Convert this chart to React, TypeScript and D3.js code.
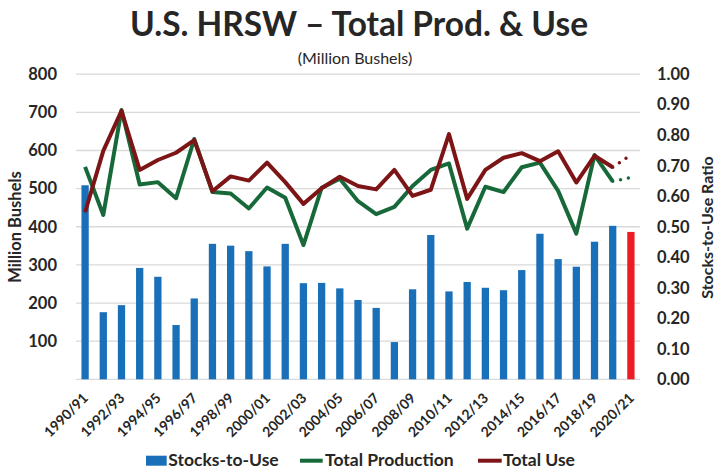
import React from "react";
import * as d3 from "d3";

const categories = [
  "1990/91","1991/92","1992/93","1993/94","1994/95","1995/96","1996/97","1997/98",
  "1998/99","1999/00","2000/01","2001/02","2002/03","2003/04","2004/05","2005/06",
  "2006/07","2007/08","2008/09","2009/10","2010/11","2011/12","2012/13","2013/14",
  "2014/15","2015/16","2016/17","2017/18","2018/19","2019/20","2020/21",
];
const stocksToUse = [
  0.636,0.22,0.243,0.365,0.336,0.178,0.265,0.444,0.438,0.42,0.37,0.444,0.315,0.316,
  0.298,0.26,0.234,0.122,0.295,0.473,0.288,0.319,0.30,0.292,0.358,0.477,0.394,0.369,
  0.451,0.503,0.483,
];
const totalProduction = [
  557,431,706,511,517,475,630,491,487,448,503,476,352,502,526,467,433,452,507,549,
  566,395,505,491,556,568,494,382,588,519,529,
];
const totalUse = [
  438,599,704,549,575,594,627,493,532,521,568,517,460,501,531,507,498,549,481,497,
  643,473,549,581,593,572,598,516,586,556,588,
];
const leftTicks = [100,200,300,400,500,600,700,800];
const rightTicks = [0,0.1,0.2,0.3,0.4,0.5,0.6,0.7,0.8,0.9,1.0];
const xLabels = categories.filter((_, i) => i % 2 === 0);

const FONT = "Lato, 'Open Sans', sans-serif";
const TXT = "#262626";
const BLUE = "#1a6fb9";
const REDBAR = "#ed1c24";
const GREEN = "#17693a";
const DARKRED = "#7d1517";

export default function App() {
  const W = 716, H = 474;
  const x = d3.scaleBand<string>().domain(categories).range([76, 640]).padding(0);
  const yL = d3.scaleLinear().domain([0, 800]).range([379.3, 74.2]);
  const yR = d3.scaleLinear().domain([0, 1]).range([379.3, 74.2]);
  const cx = (i: number) => (x(categories[i]) as number) + x.bandwidth() / 2;
  const barW = x.bandwidth() * 0.4;
  const n = categories.length;

  const line = d3.line<number>().x((_, i) => cx(i)).y((d) => yL(d));
  const solid = (arr: number[]) => line(arr.slice(0, n - 1)) as string;
  const dotted = (arr: number[]) =>
    d3.line<number>().x((_, i) => cx(n - 2 + i)).y((d) => yL(d))(arr.slice(n - 2)) as string;

  return (
    <svg width={W} height={H} style={{ position: "absolute", left: 0, top: 0, background: "#fff" }} fontFamily={FONT}>
      <text x={359} y={36} textAnchor="middle" fontSize={34} fontWeight={700} fill={TXT} textLength={458} lengthAdjust="spacingAndGlyphs">
        U.S. HRSW – Total Prod. &amp; Use
      </text>
      <text x={355} y={64} textAnchor="middle" fontSize={16} fill={TXT}>(Million Bushels)</text>

      {[0, ...leftTicks].map((t) => (
        <line key={"g" + t} x1={76} x2={640} y1={yL(t)} y2={yL(t)} stroke="#d9d9d9" strokeWidth={1.3} />
      ))}
      {leftTicks.map((t) => (
        <text key={"l" + t} x={57} y={yL(t)} dy="0.35em" textAnchor="end" fontSize={16.5} fontWeight={700} fill={TXT}>{t}</text>
      ))}
      {rightTicks.map((t) => (
        <text key={"r" + t} x={657} y={yR(t)} dy="0.35em" textAnchor="start" fontSize={16.5} fontWeight={700} fill={TXT}>{t.toFixed(2)}</text>
      ))}
      <text transform="translate(20.5,227) rotate(-90)" textAnchor="middle" fontSize={16.5} fontWeight={700} fill={TXT}>Million Bushels</text>
      <text transform="translate(712.5,227.5) rotate(-90)" textAnchor="middle" fontSize={16} fontWeight={700} fill={TXT}>Stocks-to-Use Ratio</text>

      {stocksToUse.map((v, i) => (
        <rect key={"b" + i} x={cx(i) - barW / 2} y={yR(v)} width={barW} height={yR(0) - yR(v)} fill={i === n - 1 ? REDBAR : BLUE} />
      ))}

      <path d={solid(totalProduction)} fill="none" stroke={GREEN} strokeWidth={4} strokeLinejoin="round" />
      <path d={solid(totalUse)} fill="none" stroke={DARKRED} strokeWidth={4} strokeLinejoin="round" />
      <path d={dotted(totalProduction)} fill="none" stroke={GREEN} strokeWidth={3.5} strokeLinecap="round" strokeDasharray="0 8" />
      <path d={dotted(totalUse)} fill="none" stroke={DARKRED} strokeWidth={3.5} strokeLinecap="round" strokeDasharray="0 8" />

      {xLabels.map((c) => {
        const px = (x(c) as number) + x.bandwidth() / 2;
        return (
          <text key={"x" + c} transform={`translate(${px + 4},399) rotate(-45)`} textAnchor="end" fontSize={14} fontWeight={700} fill={TXT}>{c}</text>
        );
      })}

      <rect x={146} y={455.7} width={20.7} height={10} fill={BLUE} />
      <text x={168.3} y={466} fontSize={17.5} fontWeight={700} fill={TXT}>Stocks-to-Use</text>
      <line x1={300} x2={322.7} y1={460.7} y2={460.7} stroke={GREEN} strokeWidth={4} />
      <text x={325} y={466} fontSize={17.5} fontWeight={700} fill={TXT}>Total Production</text>
      <line x1={478} x2={501.7} y1={460.7} y2={460.7} stroke={DARKRED} strokeWidth={4} />
      <text x={503} y={466} fontSize={17.5} fontWeight={700} fill={TXT}>Total Use</text>
    </svg>
  );
}
